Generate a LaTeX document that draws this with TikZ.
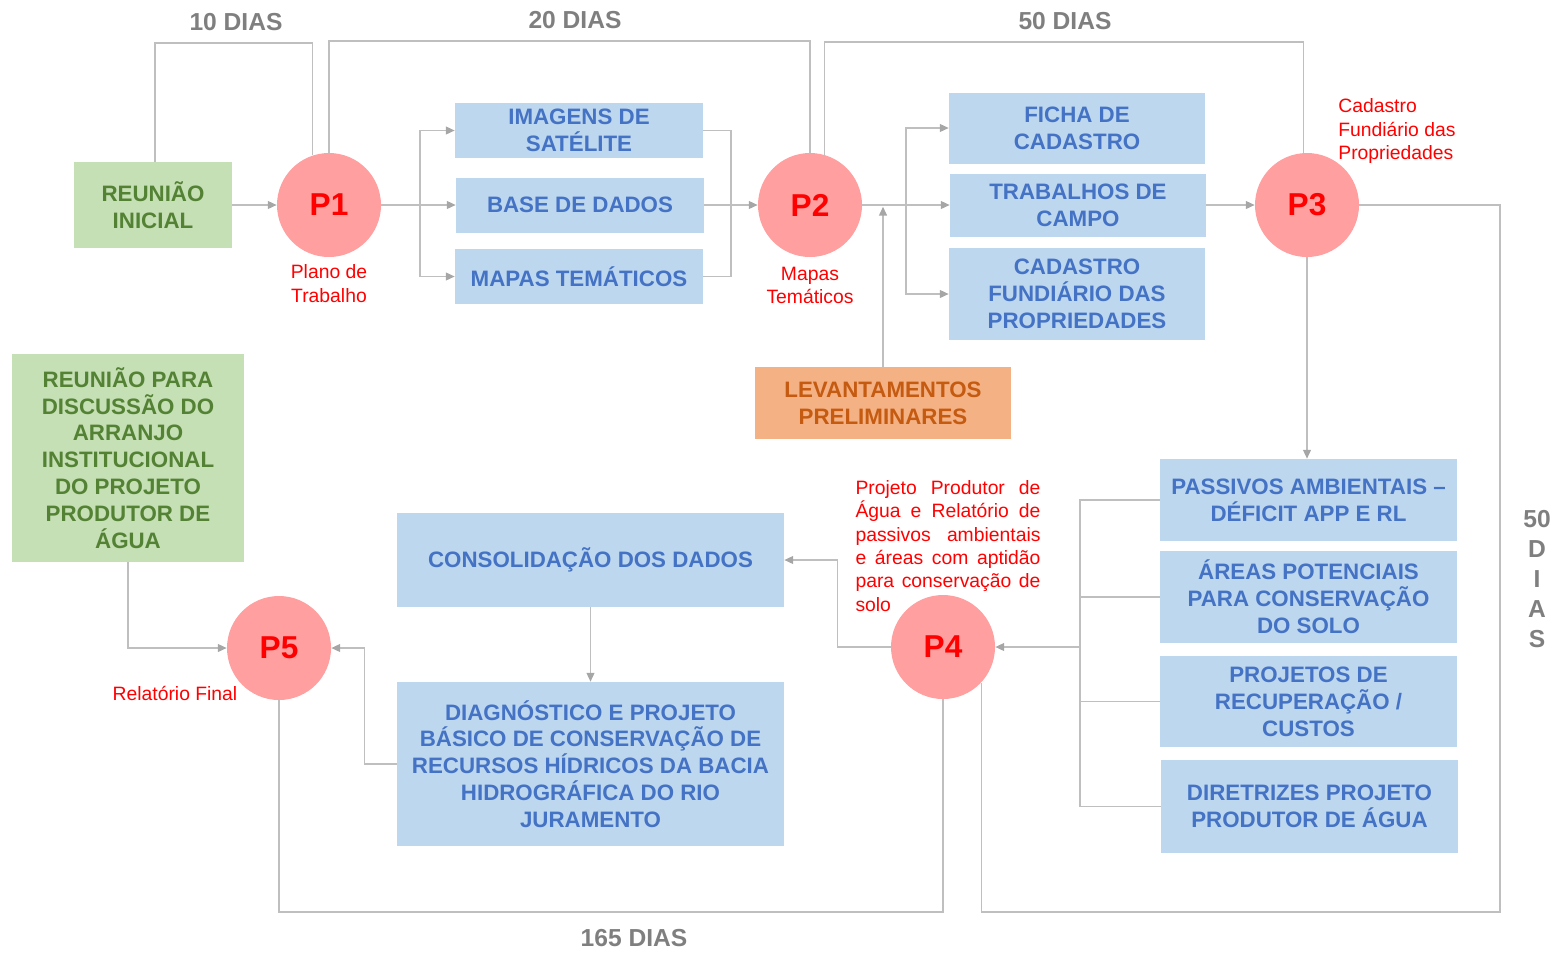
\documentclass[tikz,border=0pt]{standalone}
\usepackage{fontspec}
\setmainfont{Liberation Sans}
\usetikzlibrary{arrows.meta,positioning}

\definecolor{meetfill}{HTML}{C5E0B4}
\definecolor{meettext}{HTML}{548235}
\definecolor{taskfill}{HTML}{BDD7EE}
\definecolor{tasktext}{HTML}{4472C4}
\definecolor{prefill}{HTML}{F4B183}
\definecolor{pretext}{HTML}{C55A11}
\definecolor{phasefill}{HTML}{FF9F9F}
\definecolor{linkgray}{HTML}{BFBFBF}
\definecolor{tipgray}{HTML}{A6A6A6}
\definecolor{daysgray}{HTML}{7F7F7F}

\begin{document}
\begin{tikzpicture}[
    font=\fontsize{12.7}{15.3}\selectfont\bfseries,
    meet/.style={fill=meetfill, text=meettext, align=center, inner sep=0pt},
    task/.style={fill=taskfill, text=tasktext, align=center, inner sep=0pt},
    prelim/.style={fill=prefill, text=pretext, align=center, inner sep=0pt},
    phase/.style={circle, fill=phasefill, text=red, minimum size=2.08cm, inner sep=0pt, font=\fontsize{18}{20}\selectfont\bfseries},
    note/.style={text=red, align=center, inner sep=0pt, font=\fontsize{11}{13.3}\selectfont},
    days/.style={text=daysgray, inner sep=0pt, font=\fontsize{14}{17}\selectfont\bfseries},
    link/.style={draw=linkgray, line width=0.7pt},
    arrow/.style={link, -{Triangle[length=5pt, width=4.5pt, color=tipgray, fill=tipgray]}}
  ]
    \useasboundingbox (0,0) rectangle (31.06,-19.04);

    % first row
    \node[meet, minimum width=3.16cm, minimum height=1.72cm] (reuniao) at (3.06,-4.10) {REUNIÃO\\INICIAL};
    \node[phase] (P1) at (6.58,-4.10) {P1};
    \node[task, minimum width=4.96cm, minimum height=1.10cm] (imagens) at (11.58,-2.61) {IMAGENS DE\\SATÉLITE};
    \node[task, minimum width=4.96cm, minimum height=1.10cm] (base) at (11.60,-4.10) {BASE DE DADOS};
    \node[task, minimum width=4.96cm, minimum height=1.10cm] (mapas) at (11.58,-5.53) {MAPAS TEMÁTICOS};
    \node[phase] (P2) at (16.20,-4.10) {P2};
    \node[task, minimum width=5.12cm, minimum height=1.42cm] (ficha) at (21.54,-2.56) {FICHA DE\\CADASTRO};
    \node[task, minimum width=5.12cm, minimum height=1.26cm] (trabalhos) at (21.56,-4.10) {TRABALHOS DE\\CAMPO};
    \node[task, minimum width=5.12cm, minimum height=1.84cm] (cadastro) at (21.54,-5.88) {CADASTRO\\FUNDIÁRIO DAS\\PROPRIEDADES};
    \node[prelim, minimum width=5.12cm, minimum height=1.44cm] (levant) at (17.66,-8.06) {LEVANTAMENTOS\\PRELIMINARES};
    \node[phase] (P3) at (26.14,-4.10) {P3};

    % right column
    \node[task, minimum width=5.94cm, minimum height=1.64cm] (passivos) at (26.17,-10.00) {PASSIVOS AMBIENTAIS --\\DÉFICIT APP E RL};
    \node[task, minimum width=5.94cm, minimum height=1.84cm] (areas) at (26.17,-11.94) {ÁREAS POTENCIAIS\\PARA CONSERVAÇÃO\\DO SOLO};
    \node[task, minimum width=5.94cm, minimum height=1.82cm] (projetos) at (26.17,-14.03) {PROJETOS DE\\RECUPERAÇÃO /\\CUSTOS};
    \node[task, minimum width=5.94cm, minimum height=1.86cm] (diretrizes) at (26.19,-16.13) {DIRETRIZES PROJETO\\PRODUTOR DE ÁGUA};

    % second row
    \node[phase] (P4) at (18.86,-12.94) {P4};
    \node[task, minimum width=7.74cm, minimum height=1.88cm] (consol) at (11.81,-11.20) {CONSOLIDAÇÃO DOS DADOS};
    \node[task, minimum width=7.74cm, minimum height=3.28cm] (diagn) at (11.81,-15.28) {DIAGNÓSTICO E PROJETO\\BÁSICO DE CONSERVAÇÃO DE\\RECURSOS HÍDRICOS DA BACIA\\HIDROGRÁFICA DO RIO\\JURAMENTO};
    \node[phase] (P5) at (5.58,-12.96) {P5};
    \node[meet, minimum width=4.64cm, minimum height=4.16cm] (reuniao2) at (2.56,-9.16) {REUNIÃO PARA\\DISCUSSÃO DO\\ARRANJO\\INSTITUCIONAL\\DO PROJETO\\PRODUTOR DE\\ÁGUA};

    % products
    \node[note, below=0.14cm of P1] (plano) {Plano de\\Trabalho};
    \node[note, below=0.18cm of P2] (lmapas) {Mapas\\Temáticos};
    \node[note, align=left, anchor=west] (lcadastro) at (26.76,-2.62) {Cadastro\\Fundiário das\\Propriedades};
    \node[note, text width=3.70cm, align=justify] (lprodutor) at (18.96,-10.92) {Projeto Produtor de\linebreak Água e Relatório de\linebreak passivos ambientais\linebreak e áreas com aptidão\linebreak para conservação de\linebreak solo};
    \node[note] (lfinal) at (3.50,-13.86) {Relatório Final};

    % durations
    \node[days] (d10) at (4.72,-0.44) {10 DIAS};
    \node[days] (d20) at (11.50,-0.40) {20 DIAS};
    \node[days] (d50) at (21.30,-0.42) {50 DIAS};
    \node[days, align=center] (d50v) at (30.74,-11.58) {50\\D\\I\\A\\S};
    \node[days] (d165) at (12.68,-18.76) {165 DIAS};

    \coordinate (y10) at (0,-0.86);
    \coordinate (y20) at (0,-0.82);
    \coordinate (y50) at (0,-0.84);
    \coordinate (ybot) at (0,-18.24);
    \coordinate (xright) at (30.00,0);
    \coordinate (s1) at (8.40,-4.10);
    \coordinate (j1) at (14.62,-4.10);
    \coordinate (s2) at (18.12,-4.10);
    \coordinate (s4) at (21.60,-12.94);

    % duration brackets
    \draw[link] ([xshift=0.04cm]reuniao.north) -- ([xshift=0.04cm]reuniao.north |- y10) -| (P1.108);
    \draw[link] (P1.north) -- (P1.north |- y20) -| (P2.north);
    \draw[link] (P2.74) -- (P2.74 |- y50) -| (P3.94);
    \draw[link] (P3.east) -| (xright |- ybot) -| (P4.-43);
    \draw[link] (P4.south) -- (P4.south |- ybot) -| (P5.south);

    % flow
    \draw[arrow] (reuniao) -- (P1);
    \draw[arrow] (P1) -- (base);
    \draw[arrow] (s1) |- (imagens);
    \draw[arrow] (s1) |- (mapas);
    \draw[link] (imagens.east) -| (j1) |- (mapas.east);
    \draw[arrow] (base) -- (P2);
    \draw[arrow] (P2) -- (trabalhos);
    \draw[arrow] (s2) |- (ficha);
    \draw[arrow] (s2) |- (cadastro);
    \draw[arrow, shorten >=1pt] (levant) -- (levant |- P2);
    \draw[arrow] (trabalhos) -- (P3);
    \draw[arrow] (P3.south) -- (P3.south |- passivos.north);
    \draw[link] (passivos.west) -- (passivos.west -| s4) -- (diretrizes.west -| s4) -- (diretrizes.west);
    \draw[link] (areas.west) -- (areas.west -| s4);
    \draw[link] (projetos.west) -- (projetos.west -| s4);
    \draw[arrow] (s4) -- (P4);
    \draw[arrow] (P4.west) -- ++(-1.06,0) |- (consol.east);
    \draw[arrow] (consol) -- (diagn);
    \draw[arrow] (diagn.west) -- ++(-0.64,0) |- (P5.east);
    \draw[arrow] (reuniao2.south) |- (P5.west);
  \end{tikzpicture}
\end{document}
